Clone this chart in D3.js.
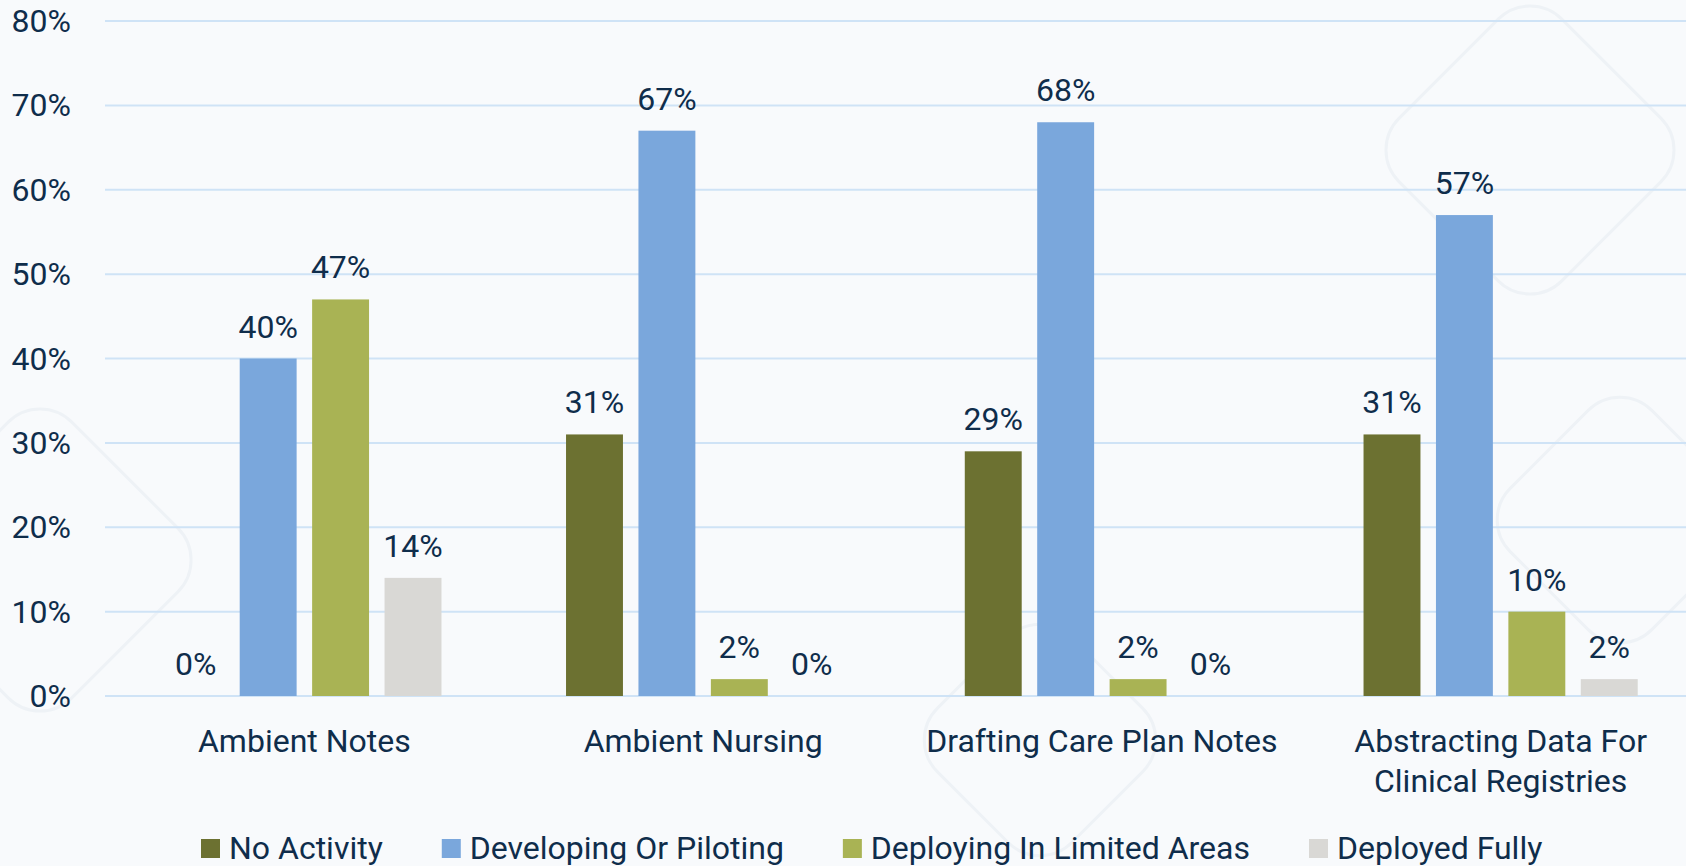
<!DOCTYPE html>
<html>
<head>
<meta charset="utf-8">
<script src="https://cdn.jsdelivr.net/npm/d3@7"></script>
<style>
  html, body { margin: 0; padding: 0; background: #f8fafc; }
  svg { display: block; font-family: Roboto, "Open Sans", sans-serif; }
  .grid line { stroke: #cfe3f6; stroke-width: 2; }
  .tick-label, .value-label, .cat-label, .legend-label { fill: #0f2d4b; font-size: 32px; }
  .deco { fill: none; stroke: #eef2f6; stroke-width: 3; }
</style>
</head>
<body>
<svg id="chart" width="1686" height="866"></svg>
<script>
// chart data
const categories = [
  ['Ambient Notes'],
  ['Ambient Nursing'],
  ['Drafting Care Plan Notes'],
  ['Abstracting Data For', 'Clinical Registries']
];
const seriesNames = ['No Activity', 'Developing Or Piloting', 'Deploying In Limited Areas', 'Deployed Fully'];
const seriesColors = ['#6c7131', '#7aa7dc', '#a9b354', '#d9d8d5'];
const noActivity = [0, 31, 29, 31];
const developing = [40, 67, 68, 57];
const deployingLimited = [47, 2, 2, 10];
const deployedFully = [14, 0, 0, 2];
const yTicks = [0, 10, 20, 30, 40, 50, 60, 70, 80];

const seriesValues = [noActivity, developing, deployingLimited, deployedFully];

const svg = d3.select('#chart');
const width = +svg.attr('width');

// faint background shapes
const deco = svg.append('g');
[[1530, 150, 230], [1620, 520, 200], [1040, 740, 190], [40, 560, 240]].forEach(([cx, cy, s]) => {
  deco.append('rect')
    .attr('class', 'deco')
    .attr('x', cx - s / 2).attr('y', cy - s / 2)
    .attr('width', s).attr('height', s)
    .attr('rx', 45)
    .attr('transform', `rotate(45, ${cx}, ${cy})`);
});

// scales
const x0 = d3.scaleBand()
  .domain(d3.range(categories.length))
  .range([105, 1700]);

const x1 = d3.scaleBand()
  .domain(d3.range(seriesNames.length))
  .range([0, x0.bandwidth()])
  .paddingInner(0.214)
  .paddingOuter(0.86);

const y = d3.scaleLinear()
  .domain([0, 80])
  .range([696, 21]);

// grid lines
svg.append('g').attr('class', 'grid')
  .selectAll('line').data(yTicks)
  .enter().append('line')
    .attr('x1', 105).attr('x2', width)
    .attr('y1', d => y(d)).attr('y2', d => y(d));

// y axis labels
svg.append('g')
  .selectAll('text').data(yTicks)
  .enter().append('text')
    .attr('class', 'tick-label')
    .attr('x', 71)
    .attr('y', d => y(d) + 11)
    .attr('text-anchor', 'end')
    .text(d => d + '%');

// bars
const groups = svg.append('g')
  .selectAll('g').data(categories)
  .enter().append('g')
    .attr('transform', (d, i) => `translate(${x0(i)}, 0)`);

groups.selectAll('rect')
  .data((d, i) => seriesValues.map((vals, s) => ({ s, v: vals[i] })))
  .enter().append('rect')
    .attr('x', d => x1(d.s))
    .attr('y', d => y(d.v))
    .attr('width', x1.bandwidth())
    .attr('height', d => y(0) - y(d.v))
    .attr('fill', d => seriesColors[d.s]);

groups.selectAll('text.value-label')
  .data((d, i) => seriesValues.map((vals, s) => ({ s, v: vals[i] })))
  .enter().append('text')
    .attr('class', 'value-label')
    .attr('x', d => x1(d.s) + x1.bandwidth() / 2)
    .attr('y', d => y(d.v) - 21)
    .attr('text-anchor', 'middle')
    .text(d => d.v + '%');

// category labels
const catLabels = groups.append('text')
  .attr('class', 'cat-label')
  .attr('text-anchor', 'middle')
  .attr('y', 752);
catLabels.selectAll('tspan')
  .data(d => d)
  .enter().append('tspan')
    .attr('x', x0.bandwidth() / 2)
    .attr('dy', (d, i) => i === 0 ? 0 : 39.5)
    .text(d => d);

// legend
const legend = svg.append('g');
let lx = 201;
seriesNames.forEach((name, i) => {
  legend.append('rect')
    .attr('x', lx).attr('y', 839)
    .attr('width', 19).attr('height', 19)
    .attr('fill', seriesColors[i]);
  const t = legend.append('text')
    .attr('class', 'legend-label')
    .attr('x', lx + 28)
    .attr('y', 859)
    .text(name);
  lx += 28 + t.node().getComputedTextLength() + 59;
});
</script>
</body>
</html>
